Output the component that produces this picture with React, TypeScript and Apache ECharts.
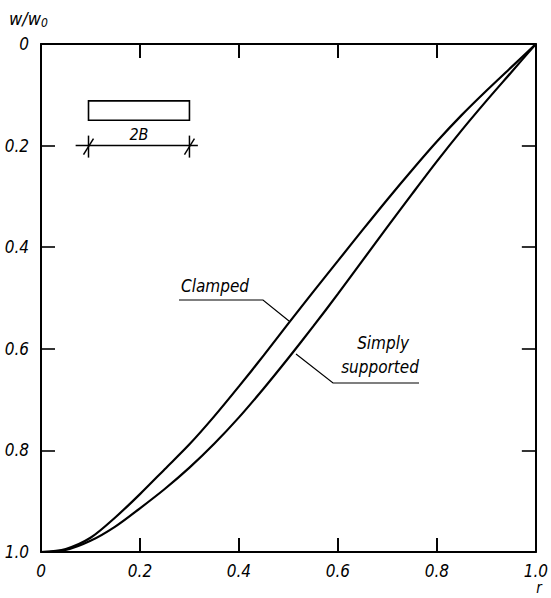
import React, { useEffect, useRef } from "react";
import * as echarts from "echarts";

const rValues = [0, 0.05, 0.1, 0.15, 0.2, 0.25, 0.3, 0.35, 0.4, 0.45, 0.5, 0.55, 0.6, 0.65, 0.7, 0.75, 0.8, 0.85, 0.9, 0.95, 1.0];
const clamped = [1.0, 0.994, 0.972, 0.932, 0.886, 0.837, 0.788, 0.733, 0.674, 0.613, 0.55, 0.488, 0.427, 0.366, 0.306, 0.248, 0.192, 0.14, 0.092, 0.046, 0];
const simplySupported = [1.0, 0.996, 0.978, 0.95, 0.914, 0.876, 0.834, 0.787, 0.735, 0.678, 0.618, 0.556, 0.492, 0.426, 0.36, 0.295, 0.231, 0.17, 0.112, 0.056, 0];
const tickValues = [0, 0.2, 0.4, 0.6, 0.8, 1.0];
const tickLabels = ["0", "0.2", "0.4", "0.6", "0.8", "1.0"];
const seriesNames = ["Clamped", "Simply supported"];

const FONT = "'DejaVu Sans Condensed', 'DejaVu Sans', sans-serif";

export default function App() {
  const ref = useRef<HTMLDivElement>(null);
  useEffect(() => {
    document.body.style.margin = "0";
    if (!ref.current) return;
    const chart = echarts.init(ref.current, null, { renderer: "svg" });
    const fmt = (v: number) => tickLabels[Math.round(v / 0.2)] ?? "";
    const axisLine = { show: true, onZero: false, lineStyle: { color: "#000", width: 2 } };
    const axisTick = { show: true, inside: true, length: 14, lineStyle: { color: "#000", width: 1.6 } };
    const baseX = {
      type: "value",
      min: 0,
      max: 1,
      interval: 0.2,
      splitLine: { show: false },
      axisLine,
      axisTick,
    };
    const baseY = { ...baseX, inverse: true };
    const labelStyle = { color: "#000", fontFamily: FONT, fontStyle: "italic", fontSize: 17, formatter: fmt };
    const mk = (vals: number[]) => rValues.map((r, i) => [r, vals[i]]);
    // inner x ticks (top and bottom) as mark lines in data coordinates (14px ≈ 0.0276 of the y range)
    const tickLen = 0.0276;
    const innerTicks = tickValues.slice(1, -1);
    const markTicks = [
      ...innerTicks.map((t) => [{ coord: [t, 1] }, { coord: [t, 1 - tickLen] }]),
      ...innerTicks.map((t) => [{ coord: [t, 0] }, { coord: [t, tickLen] }]),
    ];
    chart.setOption({
      animation: false,
      backgroundColor: "#fff",
      grid: { left: 41, right: 9, top: 44, bottom: 46, containLabel: false },
      xAxis: [
        { ...baseX, position: "bottom", axisLabel: { ...labelStyle, margin: 10 } },
        { ...baseX, position: "top", axisLabel: { show: false } },
      ],
      yAxis: [
        { ...baseY, position: "left", axisLabel: { ...labelStyle, margin: 12 } },
        { ...baseY, position: "right", axisLabel: { show: false } },
      ],
      series: [
        {
          name: seriesNames[0],
          type: "line",
          data: mk(clamped),
          smooth: 0.3,
          showSymbol: false,
          lineStyle: { color: "#000", width: 2.2 },
          markLine: {
            silent: true,
            symbol: ["none", "none"],
            label: { show: false },
            lineStyle: { color: "#000", width: 1.8, type: "solid" },
            data: markTicks,
          },
        },
        { name: seriesNames[1], type: "line", data: mk(simplySupported), smooth: 0.3, showSymbol: false, lineStyle: { color: "#000", width: 2.2 } },
      ],
    });

    const p = (r: number, v: number) => chart.convertToPixel({ xAxisIndex: 0, yAxisIndex: 0 }, [r, v]) as number[];
    const a = p(0.096, 0.112);
    const b = p(0.3, 0.15);
    const dl = p(0.07, 0.2);
    const dr = p(0.317, 0.2);
    const yD = dl[1];
    const x1 = a[0];
    const x2 = b[0];
    const stroke = { stroke: "#000", lineWidth: 1.5, fill: null };
    const tick = (x: number) => [
      { type: "line", shape: { x1: x, y1: yD - 10, x2: x, y2: yD + 12 }, style: stroke },
      { type: "line", shape: { x1: x - 5, y1: yD + 9, x2: x + 5, y2: yD - 7 }, style: stroke },
    ];
    const textStyle = (t: string, size: number) => ({ text: t, fill: "#000", font: `italic ${size}px ${FONT}` });

    chart.setOption({
      graphic: [
        { type: "rect", shape: { x: a[0], y: a[1], width: b[0] - a[0], height: b[1] - a[1] }, style: { stroke: "#000", lineWidth: 1.6, fill: "#fff" } },
        { type: "line", shape: { x1: dl[0], y1: yD, x2: dr[0], y2: yD }, style: stroke },
        ...tick(x1),
        ...tick(x2),
        { type: "text", x: (x1 + x2) / 2, y: yD - 3, style: { ...textStyle("2B", 16), textAlign: "center", textVerticalAlign: "bottom" } },
        {
          type: "text",
          x: 9,
          y: 18,
          style: {
            text: "{a|w/w}{s|0}",
            textVerticalAlign: "middle",
            rich: {
              a: { fontFamily: FONT, fontStyle: "italic", fontSize: 18, fill: "#000" },
              s: { fontFamily: FONT, fontStyle: "italic", fontSize: 12, fill: "#000", padding: [10, 0, 0, 0] },
            },
          },
        },
        { type: "text", x: 539, y: 588, style: { ...textStyle("r", 15), textAlign: "center", textVerticalAlign: "middle" } },
        { type: "text", x: 181, y: 286, style: { ...textStyle("Clamped", 17), textAlign: "left", textVerticalAlign: "middle" } },
        { type: "polyline", shape: { points: [[179, 300], [263, 300], [289, 321]] }, style: { stroke: "#000", lineWidth: 1.2, fill: null } },
        { type: "text", x: 409, y: 343, style: { ...textStyle("Simply", 17), textAlign: "right", textVerticalAlign: "middle" } },
        { type: "text", x: 419, y: 367, style: { ...textStyle("supported", 17), textAlign: "right", textVerticalAlign: "middle" } },
        { type: "polyline", shape: { points: [[296, 354], [333, 383], [419, 383]] }, style: { stroke: "#000", lineWidth: 1.2, fill: null } },
      ],
    });
    return () => chart.dispose();
  }, []);
  return <div ref={ref} style={{ width: 551, height: 598 }} />;
}
